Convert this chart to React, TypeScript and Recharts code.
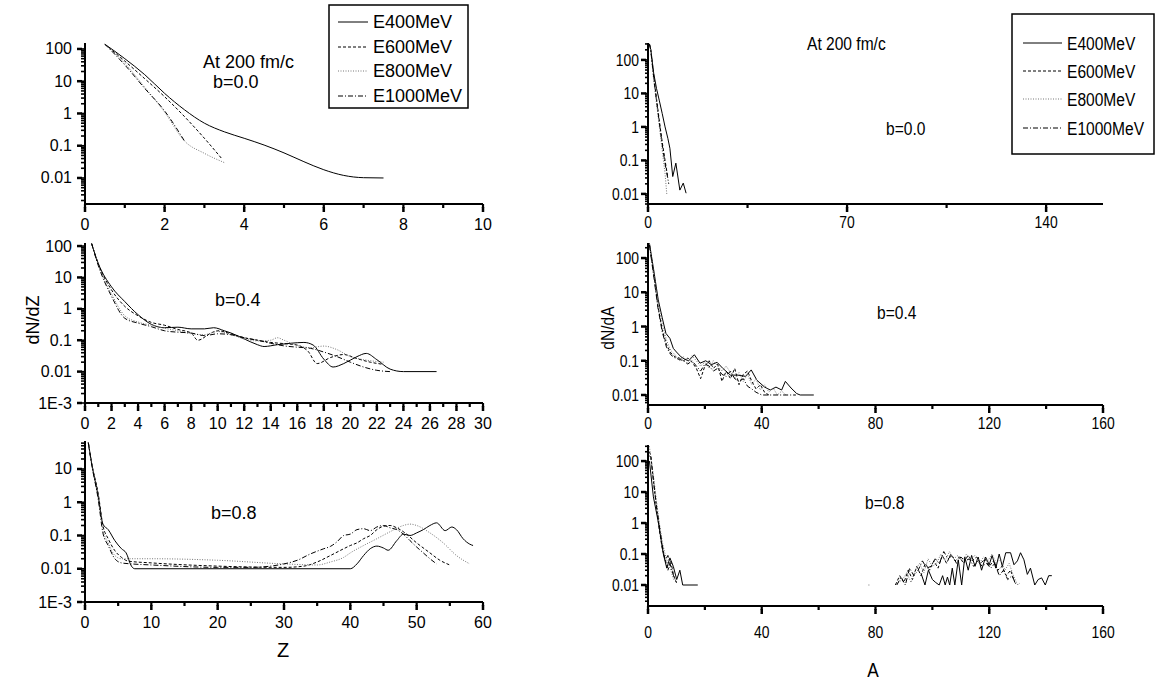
import React from 'react'
import { LineChart, Line, XAxis, YAxis } from 'recharts'

type Pt = [number, number | null]

// ---------- Z panels (left column) ----------
const zTicksB00 = [0, 2, 4, 6, 8, 10]
const zTicksB04 = [0, 2, 4, 6, 8, 10, 12, 14, 16, 18, 20, 22, 24, 26, 28, 30]
const zTicksB08 = [0, 10, 20, 30, 40, 50, 60]

const z00_e400: Pt[] = [[0.5, 140], [1, 50], [1.5, 16], [2, 4.2], [2.5, 1.3], [3, 0.5], [3.5, 0.27], [4, 0.17], [4.5, 0.105], [5, 0.06], [5.5, 0.032], [6, 0.018], [6.5, 0.012], [7, 0.0102], [7.5, 0.01]]
const z00_e600: Pt[] = [[0.5, 140], [1, 42], [1.5, 12], [2, 3.3], [2.5, 0.8], [3, 0.17], [3.45, 0.038]]
const z00_e800: Pt[] = [[0.5, 140], [1, 36], [1.5, 6.5], [2, 1.1], [2.5, 0.14], [3, 0.058], [3.5, 0.03]]
const z00_e1000: Pt[] = [[0.5, 140], [1, 32], [1.5, 6], [2, 1.2], [2.5, 0.14]]

const z04_e400: Pt[] = [[0.5, 120], [1, 28], [2, 5], [3, 1.7], [4, 0.65], [5, 0.32], [6, 0.25], [7, 0.26], [8, 0.23], [9, 0.23], [9.7, 0.25], [10.5, 0.2], [11, 0.17], [12, 0.11], [13, 0.072], [13.5, 0.063], [14.5, 0.072], [15.5, 0.08], [16.5, 0.085], [17.2, 0.07], [18, 0.025], [18.7, 0.014], [19.5, 0.018], [20.5, 0.03], [21.2, 0.038], [22, 0.024], [23, 0.012], [24, 0.01], [26.5, 0.01]]
const z04_e600: Pt[] = [[0.5, 120], [1, 27], [2, 4], [3, 1.2], [4, 0.6], [5, 0.37], [6, 0.3], [7, 0.22], [8, 0.17], [8.5, 0.1], [9.5, 0.17], [10, 0.2], [11, 0.16], [12, 0.12], [13, 0.1], [14, 0.085], [15, 0.078], [16, 0.07], [16.8, 0.045], [17.5, 0.018], [18.5, 0.028], [19.5, 0.035], [20.5, 0.026], [21.5, 0.02], [22.5, 0.017]]
const z04_e800: Pt[] = [[0.5, 120], [1, 25], [2, 3], [3, 0.6], [4, 0.38], [5, 0.3], [6, 0.24], [7, 0.2], [8, 0.16], [9, 0.15], [10, 0.19], [11, 0.15], [12, 0.11], [13, 0.095], [14, 0.1], [14.5, 0.12], [15, 0.1], [16, 0.068], [17, 0.058], [18, 0.065], [19, 0.05], [20, 0.03], [21, 0.024], [22, 0.021], [22.5, 0.02]]
const z04_e1000: Pt[] = [[0.5, 120], [1, 24], [2, 2.5], [3, 0.5], [4, 0.35], [5, 0.27], [6, 0.2], [7, 0.18], [8, 0.17], [9, 0.14], [10, 0.16], [11, 0.15], [12, 0.12], [13, 0.1], [14, 0.08], [15, 0.066], [16, 0.06], [17, 0.055], [18, 0.042], [19, 0.03], [20, 0.02], [21, 0.014], [22, 0.011], [23, 0.01]]

const z08_e400: Pt[] = [[0.5, 62], [1, 15], [2, 1.5], [2.7, 0.22], [3.5, 0.15], [4.5, 0.07], [5.5, 0.04], [6.2, 0.03], [7, 0.012], [7.5, 0.01], [40, 0.01], [41, 0.014], [42, 0.025], [43, 0.04], [44, 0.048], [45, 0.042], [45.7, 0.036], [47, 0.07], [48, 0.11], [49, 0.1], [50, 0.12], [51, 0.15], [52, 0.2], [53, 0.24], [54.3, 0.14], [55.3, 0.18], [56, 0.15], [57, 0.08], [58, 0.055], [58.5, 0.05]]
const z08_e600: Pt[] = [[0.5, 62], [1, 15], [2, 1.8], [2.7, 0.2], [3.5, 0.08], [4.5, 0.035], [5.5, 0.022], [6.5, 0.017], [10, 0.015], [20, 0.012], [30, 0.011], [33, 0.012], [35, 0.016], [37, 0.025], [39, 0.04], [40, 0.05], [41, 0.06], [42, 0.08], [43, 0.1], [44, 0.15], [45, 0.19], [46, 0.2], [47, 0.17], [48, 0.13], [50, 0.06], [52, 0.03], [53.5, 0.018], [55, 0.013]]
const z08_e800: Pt[] = [[0.5, 62], [1, 14], [2, 1.3], [2.7, 0.15], [3.5, 0.06], [4.5, 0.025], [5.5, 0.02], [10, 0.02], [20, 0.018], [30, 0.014], [35, 0.013], [37, 0.016], [39, 0.022], [40, 0.03], [42, 0.05], [44, 0.08], [46, 0.13], [48, 0.2], [49, 0.22], [50, 0.2], [52, 0.12], [54, 0.06], [56, 0.025], [58, 0.014]]
const z08_e1000: Pt[] = [[0.5, 62], [1, 14], [2, 1.2], [2.7, 0.12], [3.5, 0.05], [4.5, 0.02], [5.5, 0.015], [7, 0.014], [10, 0.013], [20, 0.011], [25, 0.011], [30, 0.014], [32, 0.018], [34, 0.028], [36, 0.04], [37, 0.047], [38, 0.065], [39, 0.1], [40, 0.11], [41, 0.15], [42, 0.16], [43, 0.14], [44, 0.18], [45, 0.2], [46, 0.17], [47, 0.15], [48, 0.11], [49, 0.07], [50, 0.045], [51, 0.03], [52, 0.02], [53, 0.014]]

// ---------- A panels (right column) ----------
const aTicksB00 = [0, 70, 140]
const aTicks = [0, 40, 80, 120, 160]

const a00_e400: Pt[] = [[0.5, 300], [1, 200], [2, 40], [3, 14], [4, 6], [5, 2.5], [6, 1], [7, 0.45], [7.7, 0.23], [8.7, 0.033], [9.8, 0.083], [11.2, 0.013], [12.4, 0.021], [13.4, 0.0105]]
const a00_e600: Pt[] = [[0.5, 300], [1, 190], [2, 35], [3, 7], [4, 1.5], [5, 0.35], [6, 0.1], [7, 0.03]]
const a00_e800: Pt[] = [[0.5, 300], [1, 180], [2, 25], [3, 5], [4, 1], [5, 0.2], [6, 0.04], [6.6, 0.01]]
const a00_e1000: Pt[] = [[0.5, 300], [1, 185], [2, 30], [3, 6], [4, 1.3], [5, 0.3], [6, 0.08], [7.3, 0.02]]

const a04_e400: Pt[] = [[0.5, 270], [2, 45], [3.6, 6], [5, 1.8], [6.3, 0.63], [7.7, 0.45], [8.9, 0.23], [10, 0.18], [11.6, 0.13], [13, 0.11], [14.3, 0.1], [16.3, 0.15], [18.3, 0.085], [20.3, 0.1], [22.3, 0.077], [24.3, 0.09], [26.3, 0.06], [29, 0.038], [31.6, 0.038], [34.3, 0.035], [36.3, 0.054], [38.3, 0.027], [41, 0.017], [43, 0.014], [45, 0.017], [47, 0.014], [48.3, 0.025], [50.3, 0.016], [52.3, 0.011], [53.5, 0.01], [58.3, 0.01]]
const a04_e600: Pt[] = [[0.5, 250], [2, 35], [3.5, 4], [5, 0.8], [6.5, 0.3], [8, 0.17], [9.5, 0.13], [11, 0.12], [12.5, 0.1], [14, 0.12], [15.5, 0.09], [17, 0.06], [18.5, 0.03], [20, 0.07], [21.5, 0.1], [23, 0.06], [24.5, 0.08], [26, 0.025], [27.5, 0.05], [29, 0.03], [30.5, 0.06], [32, 0.02], [33.5, 0.04], [35, 0.05], [36.5, 0.025], [38, 0.015], [39.5, 0.02], [41, 0.012], [42.5, 0.01]]
const a04_e800: Pt[] = [[0.5, 260], [2, 40], [3.5, 5], [5, 1.2], [6.5, 0.4], [8, 0.2], [9.5, 0.15], [11, 0.1], [12.5, 0.13], [14, 0.09], [15.5, 0.14], [17, 0.1], [18.5, 0.07], [20, 0.09], [21.5, 0.06], [23, 0.1], [24.5, 0.07], [26, 0.05], [27.5, 0.07], [29, 0.045], [30.5, 0.03], [32, 0.045], [33.5, 0.025], [35, 0.04], [36.5, 0.02], [38, 0.03], [39.5, 0.014], [41, 0.02], [42.5, 0.012], [44, 0.016], [45.5, 0.01], [47, 0.013], [48.5, 0.01]]
const a04_e1000: Pt[] = [[0.5, 240], [2, 30], [3.5, 3.5], [5, 0.7], [6.5, 0.25], [8, 0.15], [9.5, 0.12], [11, 0.11], [12.5, 0.1], [14, 0.08], [15.5, 0.1], [17, 0.07], [18.5, 0.05], [20, 0.08], [21.5, 0.07], [23, 0.05], [24.5, 0.06], [26, 0.04], [27.5, 0.035], [29, 0.05], [30.5, 0.03], [32, 0.025], [33.5, 0.03], [35, 0.018], [36.5, 0.015], [38, 0.012], [40, 0.01], [52, 0.01]]

const a08_e400: Pt[] = [[0.5, 100], [1.9, 7], [3.6, 1.1], [5.4, 0.1], [6.6, 0.035], [7.7, 0.075], [8.9, 0.04], [10.1, 0.015], [11.2, 0.03], [12.2, 0.01], [17.5, 0.01], [40, null],
  [96, 0.024], [97.4, 0.01], [98.6, 0.03], [100, 0.015], [101.2, 0.012], [102.4, 0.01], [103.6, 0.02], [104.5, 0.01], [105.3, 0.018], [106.1, 0.01], [107, 0.035], [107.9, 0.01], [109.1, 0.065], [110.3, 0.01], [111.4, 0.08], [112.6, 0.03], [113.8, 0.09], [115, 0.04], [116.1, 0.08], [117.3, 0.03], [118.7, 0.08], [120, 0.045], [121, 0.09], [122.3, 0.035], [123.5, 0.1], [124.6, 0.04], [125.8, 0.11], [127.5, 0.11], [128.7, 0.045], [129.9, 0.06], [131, 0.11], [132.2, 0.065], [133.4, 0.022], [134.5, 0.035], [136, 0.01], [137.2, 0.015], [138.4, 0.017], [139.7, 0.01], [140.9, 0.02], [142, 0.02]]
const a08_e600: Pt[] = [[0.5, 200], [1, 150], [2, 20], [3, 3], [4, 0.6], [5, 0.15], [6, 0.07], [7, 0.03], [8, 0.06], [9, 0.02], [10, 0.012], [40, null],
  [87, 0.01], [88.5, 0.02], [90, 0.012], [91.5, 0.03], [93, 0.015], [94.5, 0.04], [96, 0.02], [97.5, 0.05], [99, 0.03], [100.5, 0.06], [102, 0.035], [103.5, 0.09], [105, 0.05], [106.5, 0.1], [108, 0.06], [109.5, 0.08], [111, 0.05], [112.5, 0.09], [114, 0.06], [115.5, 0.08], [117, 0.05], [118.5, 0.07], [120, 0.04], [121.5, 0.06], [123, 0.03], [124.5, 0.04], [126, 0.02], [127.5, 0.03], [129, 0.012]]
const a08_e800: Pt[] = [[0.5, 300], [1, 120], [2, 30], [3, 5], [4, 1], [5, 0.25], [6, 0.1], [7, 0.05], [8, 0.03], [9, 0.015], [40, null],
  [77.5, 0.01], [78.3, 0.01], [83, null],
  [88, 0.012], [89.5, 0.015], [91, 0.025], [92.5, 0.012], [94, 0.03], [95.5, 0.05], [97, 0.025], [98.5, 0.07], [100, 0.04], [101.5, 0.05], [103, 0.1], [104.5, 0.06], [106, 0.12], [107.5, 0.07], [109, 0.09], [110.5, 0.06], [112, 0.1], [113.5, 0.07], [115, 0.09], [116.5, 0.05], [118, 0.08], [119.5, 0.06], [121, 0.1], [122.5, 0.05], [124, 0.07], [125.5, 0.03], [127, 0.05], [128.5, 0.02], [130, 0.01], [131, 0.012]]
const a08_e1000: Pt[] = [[0.5, 150], [1, 130], [2, 20], [3, 3.5], [4, 0.8], [5, 0.2], [6, 0.06], [7, 0.09], [8, 0.04], [9, 0.02], [10, 0.012], [40, null],
  [87.5, 0.01], [89, 0.018], [90.5, 0.01], [92, 0.035], [93.5, 0.02], [95, 0.03], [96.5, 0.06], [98, 0.035], [99.5, 0.04], [101, 0.07], [102.5, 0.05], [104, 0.12], [105.5, 0.07], [107, 0.09], [108.5, 0.05], [110, 0.08], [111.5, 0.06], [113, 0.07], [114.5, 0.04], [116, 0.06], [117.5, 0.04], [119, 0.05], [120.5, 0.035], [122, 0.05], [123.5, 0.02], [125, 0.03], [126.5, 0.015], [128, 0.02], [129.5, 0.01]]

const yMajor5 = [0.01, 0.1, 1, 10, 100]
const yLabels5 = ['0.01', '0.1', '1', '10', '100']
const yMajor6 = [0.001, 0.01, 0.1, 1, 10, 100]
const yLabels6 = ['1E-3', '0.01', '0.1', '1', '10', '100']
const yMajorB08 = [0.001, 0.01, 0.1, 1, 10]
const yLabelsB08 = ['1E-3', '0.01', '0.1', '1', '10']

const seriesNames = ['E400MeV', 'E600MeV', 'E800MeV', 'E1000MeV']

const W = 1155
const H = 687
const YW = 40
const XH = 40
const XMINOR = 4
const ARIAL = "'Liberation Sans', Arial, sans-serif"
const NARROW = 0.82

const STYLES = [
  { stroke: '#000', dash: undefined as string | undefined },
  { stroke: '#000', dash: '3 2' },
  { stroke: '#777', dash: '1 1.5' },
  { stroke: '#000', dash: '5 2 1 2' },
]

function logMinors(lo: number, hi: number) {
  const out: number[] = []
  for (let k = Math.floor(Math.log10(lo)); k <= Math.ceil(Math.log10(hi)); k++) {
    for (let m = 2; m <= 9; m++) {
      const v = m * Math.pow(10, k)
      if (v >= lo && v <= hi) out.push(v)
    }
  }
  return out
}

const rows = (pts: Pt[]) => pts.map(([x, y]) => ({ x, y }))

function SText({ x, y, size, sx, anchor, children }: any) {
  return (
    <text
      transform={`translate(${x} ${y}) scale(${sx} 1)`}
      textAnchor={anchor}
      dominantBaseline="central"
      fontFamily={ARIAL}
      fontSize={size}
      fill="#000"
    >
      {children}
    </text>
  )
}

interface PanelProps {
  box: [number, number, number, number]
  xDomain: [number, number]
  xMajor: number[]
  xMinor: number[]
  yDomain: [number, number]
  yMajor: number[]
  yLabels: string[]
  series: Pt[][]
  curve: 'monotone' | 'linear'
  sx: number
  fontSize: number
  xGap: number
  yGap: number
  yTick: number
  yMinor: number
}

function Panel(p: PanelProps) {
  const [x0, y0, x1, y1] = p.box
  const yTicks = [...p.yMajor, ...logMinors(p.yDomain[0], p.yDomain[1])].sort((a, b) => a - b)
  const xTicks = [...p.xMajor, ...p.xMinor].sort((a, b) => a - b)

  // t.x / t.y sit at the end of the native (minor-length) tick line
  const XTick = (t: any) => {
    const i = p.xMajor.indexOf(t.payload.value)
    if (i < 0) return <g />
    return (
      <g>
        <rect x={t.x - 1.25} y={t.y - 1} width={2.5} height={5} fill="#000" />
        <SText x={t.x} y={t.y - XMINOR + p.xGap} size={p.fontSize} sx={p.sx} anchor="middle">{String(p.xMajor[i])}</SText>
      </g>
    )
  }
  const YTick = (t: any) => {
    const i = p.yMajor.indexOf(t.payload.value)
    if (i < 0) return <g />
    return (
      <g>
        <rect x={t.x - (p.yTick - p.yMinor)} y={t.y - 1.25} width={p.yTick - p.yMinor + 1} height={2.5} fill="#000" />
        <SText x={t.x + p.yMinor - p.yGap} y={t.y} size={p.fontSize} sx={p.sx} anchor="end">{p.yLabels[i]}</SText>
      </g>
    )
  }

  return (
    <div style={{ position: 'absolute', left: 0, top: 0 }}>
      <LineChart
        width={W}
        height={H}
        margin={{ top: y0, left: x0 - YW, right: W - x1, bottom: H - y1 - XH }}
      >
        <XAxis
          type="number"
          dataKey="x"
          domain={p.xDomain}
          allowDataOverflow
          ticks={xTicks}
          interval={0}
          height={XH}
          tickSize={XMINOR}
          tickMargin={0}
          tickLine={{ stroke: '#000', strokeWidth: 2.2 }}
          tick={XTick}
          axisLine={{ stroke: '#000', strokeWidth: 2 }}
        />
        <YAxis
          type="number"
          scale="log"
          domain={p.yDomain}
          allowDataOverflow
          ticks={yTicks}
          interval={0}
          width={YW}
          tickSize={p.yMinor}
          tickMargin={0}
          tickLine={{ stroke: '#000', strokeWidth: 1.6 }}
          tick={YTick}
          axisLine={{ stroke: '#000', strokeWidth: 2 }}
        />
        {p.series.map((s, k) => (
          <Line
            key={seriesNames[k]}
            name={seriesNames[k]}
            data={rows(s)}
            dataKey="y"
            type={p.curve}
            stroke={STYLES[k].stroke}
            strokeDasharray={STYLES[k].dash}
            strokeWidth={1}
            dot={false}
            isAnimationActive={false}
          />
        ))}
      </LineChart>
    </div>
  )
}

function Legend({ box, rowsY, lineX, textX, size, sx }: any) {
  const [bx0, by0, bx1, by1] = box
  return (
    <g>
      <rect x={bx0} y={by0} width={bx1 - bx0} height={by1 - by0} fill="#fff" stroke="#000" strokeWidth={1.5} />
      {seriesNames.map((n, k) => (
        <g key={n}>
          <line x1={lineX[0]} x2={lineX[1]} y1={rowsY[k]} y2={rowsY[k]} stroke={STYLES[k].stroke} strokeDasharray={STYLES[k].dash} strokeWidth={1} />
          <SText x={textX} y={rowsY[k]} size={size} sx={sx} anchor="start">{n}</SText>
        </g>
      ))}
    </g>
  )
}

export default function App() {
  const left = { curve: 'monotone' as const, sx: 1, fontSize: 16, xGap: 20, yGap: 13, yTick: 8, yMinor: 4 }
  const right = { curve: 'linear' as const, sx: NARROW, fontSize: 17, yGap: 9, yTick: 7, yMinor: 3 }
  return (
    <div style={{ position: 'absolute', left: 0, top: 0, width: W, height: H, background: '#fff' }}>
      <Panel {...left} box={[85, 43, 483, 204]} xDomain={[0, 10]} xMajor={zTicksB00} xMinor={[1, 3, 5, 7, 9]}
        yDomain={[0.00156, 153]} yMajor={yMajor5} yLabels={yLabels5} series={[z00_e400, z00_e600, z00_e800, z00_e1000]} />
      <Panel {...left} box={[85, 243, 483, 403]} xDomain={[0, 30]} xMajor={zTicksB04}
        xMinor={[1, 3, 5, 7, 9, 11, 13, 15, 17, 19, 21, 23, 25, 27, 29]}
        yDomain={[0.001, 125]} yMajor={yMajor6} yLabels={yLabels6} series={[z04_e400, z04_e600, z04_e800, z04_e1000]} />
      <Panel {...left} box={[85, 441, 483, 602]} xDomain={[0, 60]} xMajor={zTicksB08} xMinor={[5, 15, 25, 35, 45, 55]}
        yDomain={[0.001, 69.5]} yMajor={yMajorB08} yLabels={yLabelsB08} series={[z08_e400, z08_e600, z08_e800, z08_e1000]} />

      <Panel {...right} xGap={18} box={[648, 43, 1103, 204]} xDomain={[0, 160]} xMajor={aTicksB00} xMinor={[35, 105]}
        yDomain={[0.005, 320]} yMajor={yMajor5} yLabels={yLabels5} series={[a00_e400, a00_e600, a00_e800, a00_e1000]} />
      <Panel {...right} xGap={18} box={[648, 243, 1103, 405]} xDomain={[0, 160]} xMajor={aTicks} xMinor={[20, 60, 100, 140]}
        yDomain={[0.0051, 275]} yMajor={yMajor5} yLabels={yLabels5} series={[a04_e400, a04_e600, a04_e800, a04_e1000]} />
      <Panel {...right} xGap={26} box={[648, 445, 1103, 606]} xDomain={[0, 160]} xMajor={aTicks} xMinor={[20, 60, 100, 140]}
        yDomain={[0.0021, 330]} yMajor={yMajor5} yLabels={yLabels5} series={[a08_e400, a08_e600, a08_e800, a08_e1000]} />

      <svg width={W} height={H} style={{ position: 'absolute', left: 0, top: 0 }}>
        <Legend box={[329, 5, 468, 108]} rowsY={[22, 47, 71, 96]} lineX={[338, 368]} textX={373} size={18} sx={1} />
        <Legend box={[1012, 14, 1154, 154]} rowsY={[43, 71, 99, 128]} lineX={[1023, 1062]} textX={1067} size={19} sx={NARROW} />

        <SText x={203} y={62} size={18} sx={1} anchor="start">At 200 fm/c</SText>
        <SText x={213} y={82} size={18} sx={1} anchor="start">b=0.0</SText>
        <SText x={215} y={300} size={18} sx={1} anchor="start">b=0.4</SText>
        <SText x={211} y={513} size={18} sx={1} anchor="start">b=0.8</SText>
        <g transform="translate(33 320) rotate(-90)">
          <SText x={0} y={0} size={18} sx={1} anchor="middle">dN/dZ</SText>
        </g>
        <SText x={283} y={650} size={20} sx={1} anchor="middle">Z</SText>

        <SText x={807} y={43} size={19} sx={NARROW} anchor="start">At 200 fm/c</SText>
        <SText x={886} y={128} size={19} sx={NARROW} anchor="start">b=0.0</SText>
        <SText x={877} y={312} size={19} sx={NARROW} anchor="start">b=0.4</SText>
        <SText x={865} y={502} size={19} sx={NARROW} anchor="start">b=0.8</SText>
        <g transform="translate(607 328) rotate(-90)">
          <SText x={0} y={0} size={19} sx={NARROW} anchor="middle">dN/dA</SText>
        </g>
        <SText x={873} y={670} size={21} sx={NARROW} anchor="middle">A</SText>
      </svg>
    </div>
  )
}
